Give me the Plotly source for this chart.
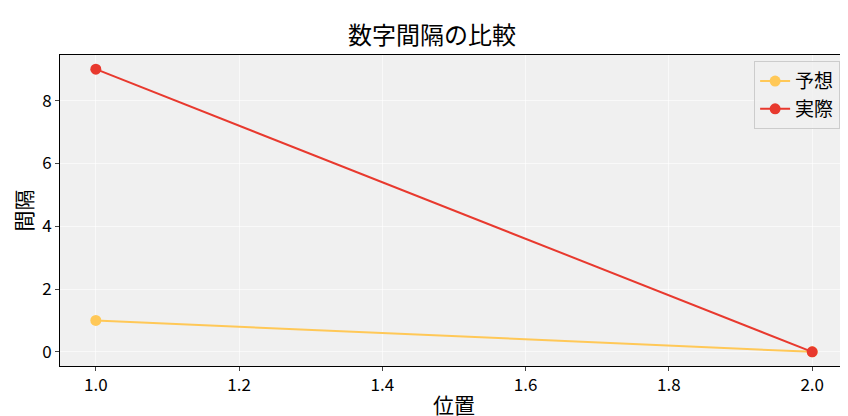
import plotly.graph_objects as go

positions = [1, 2]
expected = [1, 0]
actual = [9, 0]

font = "Noto Sans CJK JP"

fig = go.Figure()
fig.add_trace(go.Scatter(x=positions, y=expected, mode="lines+markers", name="予想",
                         line=dict(color="#ffc857", width=2), marker=dict(size=11, color="#ffc857")))
fig.add_trace(go.Scatter(x=positions, y=actual, mode="lines+markers", name="実際",
                         line=dict(color="#e8392e", width=2), marker=dict(size=11, color="#e8392e")))

fig.update_layout(
    width=848, height=416,
    margin=dict(l=52, r=8, t=47, b=58, autoexpand=False),
    paper_bgcolor="white", plot_bgcolor="#f0f0f0",
    font=dict(family=font, size=17, color="black"),
    title=dict(text="数字間隔の比較", x=0.5, xanchor="center", y=0.955, font=dict(size=24)),
    legend=dict(x=0.99, y=0.98, xanchor="right", yanchor="top", bgcolor="rgba(240,240,240,0.8)",
                bordercolor="#cccccc", borderwidth=1, font=dict(size=19)),
)
axis = dict(showline=True, linecolor="black", linewidth=1, mirror=True, ticks="outside",
            ticklen=4, gridcolor="rgba(255,255,255,0.6)", zeroline=False, automargin=False)
fig.update_xaxes(range=[0.95, 2.05], dtick=0.2, tickformat=".1f",
                 title=dict(text="位置", font=dict(size=21), standoff=2), **axis)
fig.update_yaxes(range=[-0.45, 9.45], dtick=2,
                 title=dict(text="間隔", font=dict(size=21), standoff=4), **axis)

fig.write_html("out.html")
